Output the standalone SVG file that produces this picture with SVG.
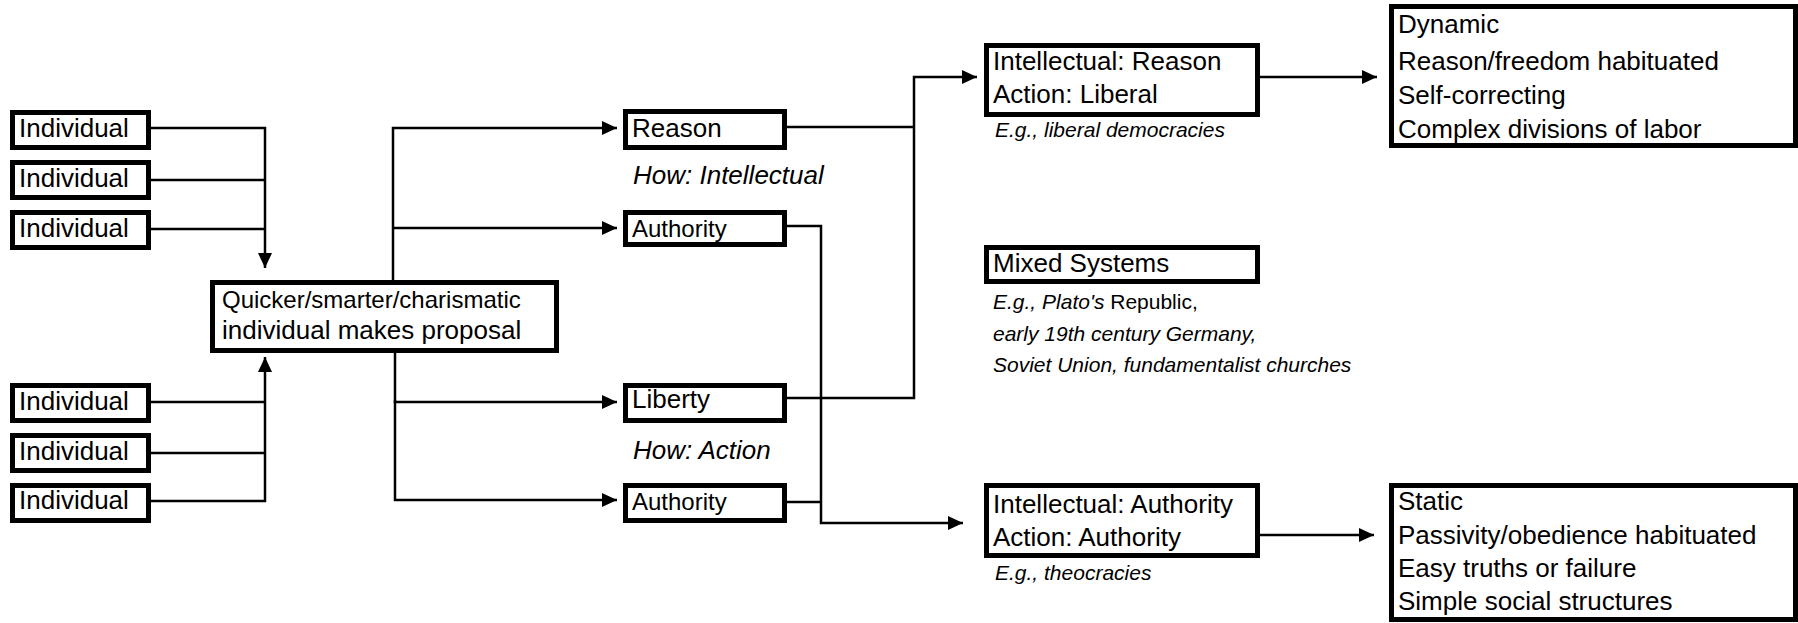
<svg xmlns="http://www.w3.org/2000/svg" width="1798" height="623" viewBox="0 0 1798 623">
<style>
.box{fill:#fff;stroke:#000;stroke-width:5}
.t{font-family:"Liberation Sans",Arial,sans-serif;font-size:26px;fill:#000}
.s{font-size:24px}
.i{font-family:"Liberation Sans",Arial,sans-serif;font-size:26px;font-style:italic;fill:#000}
.e{font-family:"Liberation Sans",Arial,sans-serif;font-size:21px;font-style:italic;fill:#000}
.n{font-style:normal}
.c{fill:none;stroke:#000;stroke-width:2.5}
</style>
<defs>
<marker id="ah" markerUnits="userSpaceOnUse" markerWidth="16" markerHeight="16" viewBox="0 0 16 16" refX="15" refY="8" orient="auto">
<path d="M0,1 L15,8 L0,15 Z" fill="#000"/>
</marker>
</defs>
<rect width="1798" height="623" fill="#fff"/>
<g id="connectors">
<path class="c" d="M151,128 H266 M151,180 H266 M151,229 H266"/>
<path class="c" d="M265,127 V268" marker-end="url(#ah)"/>
<path class="c" d="M151,402 H266 M151,453 H266 M151,501 H266"/>
<path class="c" d="M265,502 V357" marker-end="url(#ah)"/>
<path class="c" d="M393,280 V128 H617" marker-end="url(#ah)"/>
<path class="c" d="M393,228 H617" marker-end="url(#ah)"/>
<path class="c" d="M395,352 V402 H617" marker-end="url(#ah)"/>
<path class="c" d="M395,400 V500 H617" marker-end="url(#ah)"/>
<path class="c" d="M787,127 H914"/>
<path class="c" d="M787,398 H914 V77 H977" marker-end="url(#ah)"/>
<path class="c" d="M787,226 H821 V523 H963" marker-end="url(#ah)"/>
<path class="c" d="M787,502 H821"/>
<path class="c" d="M1260,77 H1377" marker-end="url(#ah)"/>
<path class="c" d="M1260,535 H1374" marker-end="url(#ah)"/>
</g>
<g id="ind1"><rect class="box" x="12.5" y="112.5" width="136" height="35"/><text class="t" x="19" y="137">Individual</text></g>
<g id="ind2"><rect class="box" x="12.5" y="162.5" width="136" height="35"/><text class="t" x="19" y="187">Individual</text></g>
<g id="ind3"><rect class="box" x="12.5" y="212.5" width="136" height="35"/><text class="t" x="19" y="237">Individual</text></g>
<g id="ind4"><rect class="box" x="12.5" y="385.5" width="136" height="35"/><text class="t" x="19" y="410">Individual</text></g>
<g id="ind5"><rect class="box" x="12.5" y="435.5" width="136" height="35"/><text class="t" x="19" y="460">Individual</text></g>
<g id="ind6"><rect class="box" x="12.5" y="485.5" width="136" height="35"/><text class="t" x="19" y="509">Individual</text></g>
<g id="proposal"><rect class="box" x="212.5" y="282.5" width="344" height="68"/><text class="t s" x="222" y="308">Quicker/smarter/charismatic</text><text class="t" x="222" y="339">individual makes proposal</text></g>
<g id="reason"><rect class="box" x="625.5" y="111.5" width="159" height="36"/><text class="t" x="632" y="137">Reason</text></g>
<text class="i" x="633" y="184">How: Intellectual</text>
<g id="authority1"><rect class="box" x="625.5" y="212.5" width="159" height="32"/><text class="t s" x="632" y="237">Authority</text></g>
<g id="liberty"><rect class="box" x="625.5" y="385.5" width="159" height="35"/><text class="t" x="632" y="408">Liberty</text></g>
<text class="i" x="633" y="459">How: Action</text>
<g id="authority2"><rect class="box" x="625.5" y="485.5" width="159" height="35"/><text class="t s" x="632" y="510">Authority</text></g>
<g id="liberal"><rect class="box" x="986.5" y="45.5" width="271" height="69"/><text class="t" x="993" y="70">Intellectual: Reason</text><text class="t" x="993" y="103">Action: Liberal</text></g>
<text class="e" x="995" y="137">E.g., liberal democracies</text>
<g id="mixed"><rect class="box" x="986.5" y="247.5" width="271" height="34"/><text class="t" x="993" y="272">Mixed Systems</text></g>
<text class="e" x="993" y="309">E.g., Plato's <tspan class="n">Republic,</tspan></text>
<text class="e" x="993" y="341">early 19th century Germany,</text>
<text class="e" x="993" y="372">Soviet Union, fundamentalist churches</text>
<g id="authoritarian"><rect class="box" x="986.5" y="485.5" width="271" height="70"/><text class="t" x="993" y="513">Intellectual: Authority</text><text class="t" x="993" y="546">Action: Authority</text></g>
<text class="e" x="995" y="580">E.g., theocracies</text>
<g id="dynamic"><rect class="box" x="1391.5" y="6.5" width="404" height="139"/><text class="t" x="1398" y="33">Dynamic</text><text class="t" x="1398" y="70">Reason/freedom habituated</text><text class="t" x="1398" y="104">Self-correcting</text><text class="t" x="1398" y="138">Complex divisions of labor</text></g>
<g id="static"><rect class="box" x="1391.5" y="485.5" width="404" height="134"/><text class="t" x="1398" y="510">Static</text><text class="t" x="1398" y="544">Passivity/obedience habituated</text><text class="t" x="1398" y="577">Easy truths or failure</text><text class="t" x="1398" y="610">Simple social structures</text></g>
</svg>
